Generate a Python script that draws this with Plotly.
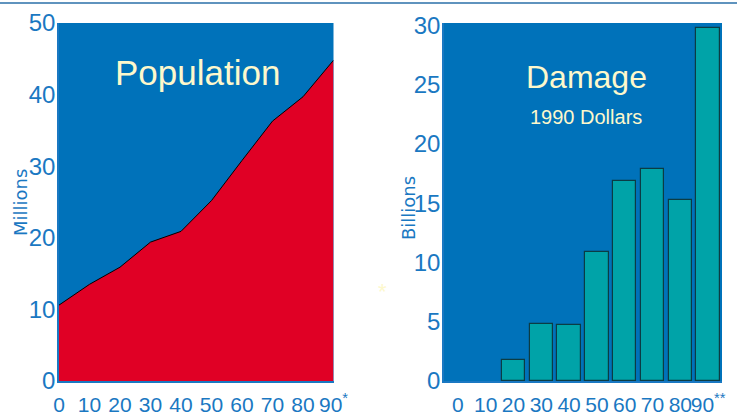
import plotly.graph_objects as go

# Data
decades = [0, 10, 20, 30, 40, 50, 60, 70, 80, 90]
pop_labels = ["0", "10", "20", "30", "40", "50", "60", "70", "80", "90<sup>*</sup>"]
dmg_labels = ["0", "10", "20", "30", "40", "50", "60", "70", "80", "90<sup>**</sup>"]
population = [10.6, 13.5, 15.9, 19.4, 20.9, 25.2, 30.8, 36.3, 39.7, 44.8]
damage = [None, None, 1.8, 4.8, 4.7, 10.9, 16.9, 17.9, 15.3, 29.8]
pop_yticks = [0, 10, 20, 30, 40, 50]
dmg_yticks = [0, 5, 10, 15, 20, 25, 30]

W, H = 737, 419
BLUE_BG = "#0072BA"
RED = "#E00025"
TEAL = "#00A3A8"
LABEL = "#1A78C2"
CREAM = "#FDF8CC"
YTICKFONT = dict(family="Liberation Sans, Arial, sans-serif", size=24, color=LABEL)
XTICKFONT = dict(family="Liberation Sans, Arial, sans-serif", size=21, color=LABEL)

def px(x):
    return x / W

def py(y):
    return 1 - y / H

fig = go.Figure()

fig.add_trace(go.Scatter(
    x=decades, y=population, mode="lines", fill="tozeroy",
    fillcolor=RED, line=dict(color="black", width=1),
    xaxis="x", yaxis="y", showlegend=False, hoverinfo="x+y"))

fig.add_trace(go.Bar(
    x=decades, y=damage, width=8.4,
    marker=dict(color=TEAL, line=dict(color="#0B3C44", width=1.2)),
    xaxis="x2", yaxis="y2", showlegend=False))

axis_common = dict(showgrid=False, zeroline=False, ticks="",
                   showline=True, linecolor=LABEL, linewidth=1.5, automargin=False)

fig.update_layout(
    width=W, height=H,
    margin=dict(l=0, r=0, t=0, b=0),
    paper_bgcolor="white", plot_bgcolor=BLUE_BG,
    font=dict(family="Liberation Sans, Arial, sans-serif"),
    xaxis=dict(domain=[px(59), px(333.5)], range=[0, 90], anchor="y",
               tickvals=decades, ticktext=pop_labels, ticklabelstandoff=4, tickangle=0,
               tickfont=XTICKFONT, **axis_common),
    yaxis=dict(domain=[py(381), py(23)], range=[0, 50], tickvals=pop_yticks,
               anchor="x", ticklabelstandoff=-3, tickfont=YTICKFONT, **axis_common),
    xaxis2=dict(domain=[px(444), px(722)], range=[-5, 95], anchor="y2",
                tickvals=decades, ticktext=dmg_labels, ticklabelstandoff=4, tickangle=0,
                tickfont=XTICKFONT, **axis_common),
    yaxis2=dict(domain=[py(381), py(23)], range=[0, 30.2], tickvals=dmg_yticks,
                anchor="x2", ticklabelstandoff=-3, tickfont=YTICKFONT, **axis_common),
    bargap=0,
)

fig.add_shape(type="line", xref="paper", yref="paper", x0=0, x1=1,
              y0=py(3), y1=py(3), line=dict(color="#2A6FA8", width=1.5))

ann = [
    dict(text="Population", x=px(197), y=py(72), size=35),
    dict(text="Damage", x=px(586), y=py(77), size=32),
    dict(text="1990 Dollars", x=px(586), y=py(117), size=20),
    dict(text="*", x=px(382), y=py(291), size=22),
]
for a in ann:
    fig.add_annotation(text=a["text"], x=a["x"], y=a["y"], xref="paper", yref="paper",
                       showarrow=False, xanchor="center", yanchor="middle",
                       font=dict(color=CREAM, size=a["size"],
                                 family="Liberation Sans, Arial, sans-serif"))

for text, x, y in [("Millions", 21, 203), ("Billions", 408, 208)]:
    fig.add_annotation(text=text, x=px(x), y=py(y), xref="paper", yref="paper",
                       showarrow=False, textangle=-90, xanchor="center", yanchor="middle",
                       font=dict(color=LABEL, size=18, family="DejaVu Sans, sans-serif"))

fig.write_html("out.html", config={"displayModeBar": False},
               post_script="document.body.style.margin='0';document.body.style.overflow='hidden';")
